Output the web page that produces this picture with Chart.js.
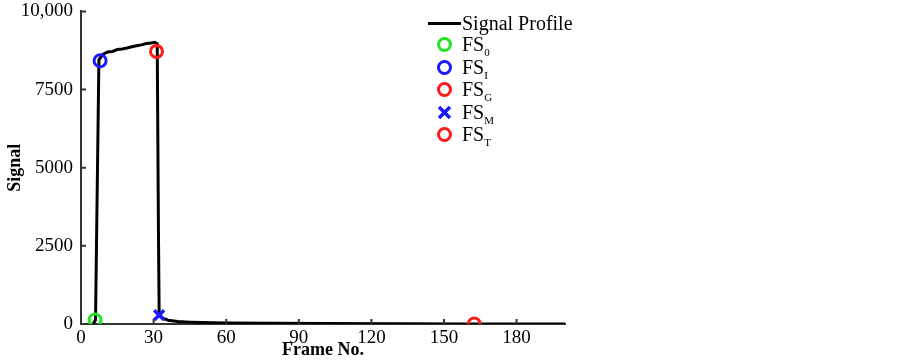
<!DOCTYPE html>
<html>
<head>
<meta charset="utf-8">
<script src="https://cdn.jsdelivr.net/npm/chart.js@4.4.1/dist/chart.umd.min.js"></script>
<style>
  body { margin: 0; background: #fff; }
  #wrap { position: relative; width: 903px; height: 361px; }
  #leyenda { position: absolute; left: 428px; top: 12px; font-family: "Liberation Serif", serif; font-size: 20px; color: #000; }
  .fila { position: absolute; left: 0; height: 22px; white-space: nowrap; }
  .fila span.txt { position: absolute; left: 34px; top: 0; line-height: 22px; }
  .fila sub { font-size: 11px; }
  .raya { position: absolute; left: 0; top: 10px; width: 33px; height: 3px; background: #000; }
  .circ { position: absolute; left: 9px; top: 4px; width: 9px; height: 9px; border-radius: 50%; border: 3px solid; }
</style>
</head>
<body>
<div id="wrap">
  <canvas id="grafico" width="903" height="361"></canvas>
  <div id="leyenda">
    <div class="fila" style="top:0px"><div class="raya"></div><span class="txt">Signal Profile</span></div>
    <div class="fila" style="top:21px"><div class="circ" style="border-color:#22e622"></div><span class="txt">FS<sub>0</sub></span></div>
    <div class="fila" style="top:44px"><div class="circ" style="border-color:#1a1aff"></div><span class="txt">FS<sub>I</sub></span></div>
    <div class="fila" style="top:66px"><div class="circ" style="border-color:#ff1a1a"></div><span class="txt">FS<sub>G</sub></span></div>
    <div class="fila" style="top:89px"><svg style="position:absolute;left:9px;top:4px" width="15" height="15"><path d="M2 2 L13 13 M13 2 L2 13" stroke="#1a1aff" stroke-width="3.5"/></svg><span class="txt">FS<sub>M</sub></span></div>
    <div class="fila" style="top:111px"><div class="circ" style="border-color:#ff1a1a"></div><span class="txt">FS<sub>T</sub></span></div>
  </div>
</div>
<script>
// datos
const frames = [5, 6, 7.4, 9, 11, 13, 15, 17, 19, 21, 23, 25, 27, 29, 30.5, 31.5, 32, 32.3, 34, 36, 40, 45, 50, 60, 80, 100, 130, 160, 200];
const senal  = [0, 130, 8450, 8620, 8700, 8720, 8780, 8800, 8830, 8870, 8900, 8930, 8970, 8990, 9010, 8960, 3000, 280, 180, 120, 80, 60, 45, 30, 20, 12, 6, 0, 0];

const fs0 = [{x: 5.8, y: 130}];
const fsI = [{x: 7.9, y: 8420}];
const fsG = [{x: 31.2, y: 8720}];
const fsM = [{x: 32.3, y: 285}];
const fsT = [{x: 162.5, y: 0}];

const xTicks = [0, 30, 60, 90, 120, 150, 180];
const yTicks = [0, 2500, 5000, 7500, 10000];

const serif = '"Liberation Serif", "Times New Roman", serif';

// ticks hacia adentro
const ticksAdentro = {
  id: 'ticksAdentro',
  afterDraw(chart) {
    const c = chart.ctx, a = chart.chartArea;
    const sx = chart.scales.x, sy = chart.scales.y;
    c.save();
    c.strokeStyle = '#333';
    c.lineWidth = 2;
    c.beginPath();
    xTicks.forEach(v => {
      const px = sx.getPixelForValue(v);
      c.moveTo(px, a.bottom); c.lineTo(px, a.bottom - 5);
    });
    yTicks.forEach(v => {
      const py = sy.getPixelForValue(v);
      c.moveTo(a.left, py); c.lineTo(a.left + 5, py);
    });
    c.stroke();
    c.restore();
  }
};

const ctx = document.getElementById('grafico').getContext('2d');
window.myChart = new Chart(ctx, {
  type: 'line',
  data: {
    datasets: [
      { label: 'Signal Profile', data: frames.map((f, i) => ({x: f, y: senal[i]})),
        borderColor: '#000', borderWidth: 3, pointRadius: 0, tension: 0, order: 5 },
      { type: 'scatter', label: 'FS0', data: fs0, pointStyle: 'circle', pointRadius: 6,
        borderColor: '#22e622', backgroundColor: 'transparent', pointBorderWidth: 3 },
      { type: 'scatter', label: 'FSI', data: fsI, pointStyle: 'circle', pointRadius: 6,
        borderColor: '#1a1aff', backgroundColor: 'transparent', pointBorderWidth: 3 },
      { type: 'scatter', label: 'FSG', data: fsG, pointStyle: 'circle', pointRadius: 6,
        borderColor: '#ff1a1a', backgroundColor: 'transparent', pointBorderWidth: 3 },
      { type: 'scatter', label: 'FSM', data: fsM, pointStyle: 'crossRot', pointRadius: 7,
        borderColor: '#1a1aff', backgroundColor: 'transparent', pointBorderWidth: 3.5 },
      { type: 'scatter', label: 'FST', data: fsT, pointStyle: 'circle', pointRadius: 6,
        borderColor: '#ff1a1a', backgroundColor: 'transparent', pointBorderWidth: 3 }
    ]
  },
  options: {
    responsive: false,
    animation: false,
    layout: { padding: { top: 8, right: 338, left: 0, bottom: 0 } },
    plugins: { legend: { display: false }, tooltip: { enabled: false } },
    scales: {
      x: {
        type: 'linear', min: 0, max: 200,
        afterBuildTicks: s => { s.ticks = xTicks.map(v => ({value: v})); },
        afterFit: s => { s.height = 37; },
        grid: { display: false },
        border: { color: '#333', width: 2 },
        ticks: { color: '#000', font: { family: serif, size: 19 }, padding: -5, maxRotation: 0 },
        title: { display: true, text: 'Frame No.', color: '#000', font: { family: serif, size: 18, weight: 'bold' }, padding: { top: -3, bottom: 0 } }
      },
      y: {
        min: 0, max: 10000,
        afterBuildTicks: s => { s.ticks = yTicks.map(v => ({value: v})); },
        afterFit: s => { s.width = 81; },
        grid: { display: false },
        border: { color: '#333', width: 2 },
        ticks: { color: '#000', font: { family: serif, size: 19 }, padding: 0,
          callback: v => v === 10000 ? '10,000' : String(v) },
        title: { display: true, text: 'Signal', color: '#000', font: { family: serif, size: 18, weight: 'bold' }, padding: { top: 5, bottom: 0 } }
      }
    }
  },
  plugins: [ticksAdentro]
});
</script>
</body>
</html>
